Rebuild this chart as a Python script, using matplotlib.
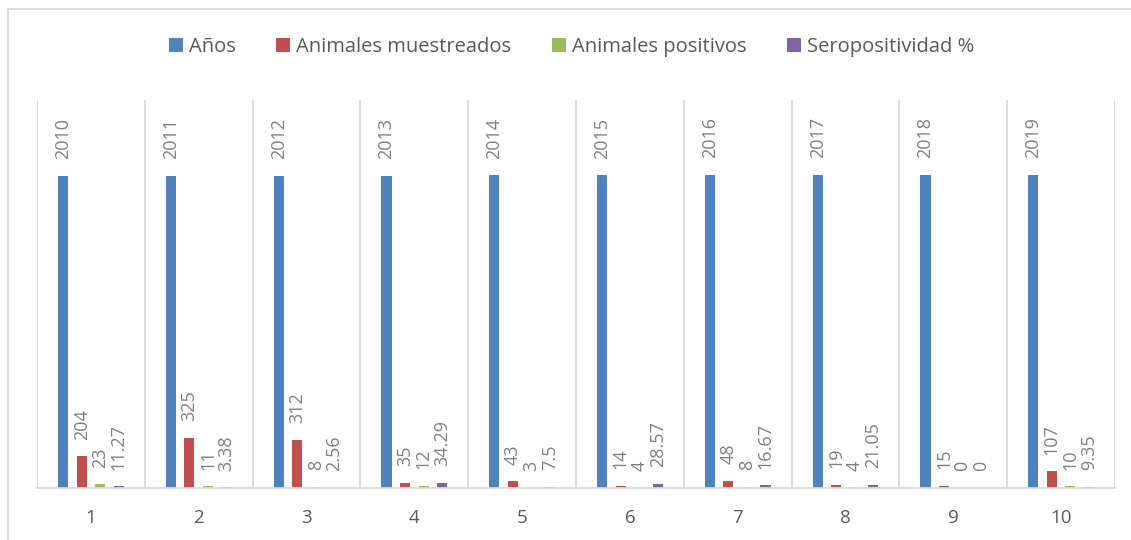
import numpy as np
import matplotlib
matplotlib.use("Agg")
import matplotlib.pyplot as plt
from matplotlib.patches import Patch, Rectangle

plt.rcParams['font.family'] = ['Open Sans', 'DejaVu Sans']

# data
grupos = ["1", "2", "3", "4", "5", "6", "7", "8", "9", "10"]
anos = [2010, 2011, 2012, 2013, 2014, 2015, 2016, 2017, 2018, 2019]
muestreados = [204, 325, 312, 35, 43, 14, 48, 19, 15, 107]
positivos = [23, 11, 8, 12, 3, 4, 8, 4, 0, 10]
seropositividad = [11.27, 3.38, 2.56, 34.29, 7.5, 28.57, 16.67, 21.05, 0, 9.35]

series = [
    ("Años", anos, "#4F81BD"),
    ("Animales muestreados", muestreados, "#C0504D"),
    ("Animales positivos", positivos, "#9BBB59"),
    ("Seropositividad %", seropositividad, "#8064A2"),
]

fig = plt.figure(figsize=(11.31, 5.4), dpi=100)
ax = fig.add_axes([37 / 1131, 1 - 488 / 540, (1115 - 37) / 1131, (488 - 100) / 540])

x = np.arange(len(grupos))
ancho = 0.093
paso = 0.172

for i, (nombre, vals, color) in enumerate(series):
    pos = x + (i - 1.5) * paso
    ax.bar(pos, vals, width=ancho, color=color, label=nombre)
    for xp, v in zip(pos, vals):
        ax.annotate(f"{v:g}", (xp, v), xytext=(0, 12), textcoords="offset points",
                    rotation=90, ha="center", va="bottom", fontsize=13, color="#808080")

ax.set_xlim(-0.5, len(grupos) - 0.5)
ax.set_ylim(0, 2500)
ax.set_yticks([])
ax.set_xticks(x)
ax.set_xticklabels(grupos, fontsize=13.5, color="#595959")
ax.tick_params(axis="x", length=0, pad=15)
for b in np.arange(-0.5, len(grupos), 1.0):
    ax.axvline(b, color="#D9D9D9", lw=1.3, zorder=0)
for s in ["top", "right", "left"]:
    ax.spines[s].set_visible(False)
ax.spines["bottom"].set_color("#D9D9D9")
ax.spines["bottom"].set_linewidth(1.3)

handles = [Patch(facecolor=c, label=n) for n, _, c in series]
fig.legend(handles=handles, loc="center", bbox_to_anchor=(0.5 + 6 / 1131, 1 - 47 / 540), ncol=4,
           frameon=False, fontsize=14.5, handlelength=0.7, handleheight=0.7,
           handletextpad=0.3, columnspacing=2.0, labelcolor="#595959")

# chart border
fig.patches.append(Rectangle((8 / 1131, -0.05), 1.1, 1.05 - 9 / 540, transform=fig.transFigure,
                             fill=False, edgecolor="#D9D9D9", lw=1.3))

fig.savefig("out.png", dpi=100)
